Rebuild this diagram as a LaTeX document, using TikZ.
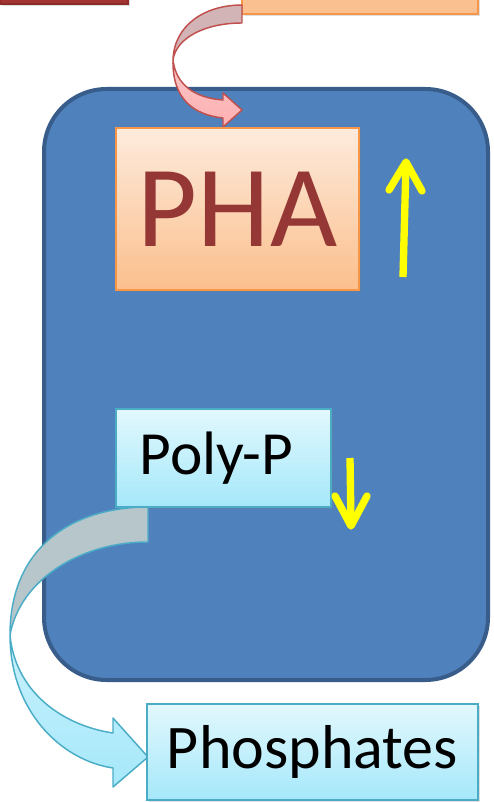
\documentclass[tikz,border=0pt]{standalone}
\usepackage{fontspec}
\setmainfont{Carlito}
\usetikzlibrary{shadows}
\definecolor{cellfill}{HTML}{4F81BD}
\definecolor{celledge}{HTML}{385D8A}
\definecolor{phatop}{HTML}{FDEBDD}
\definecolor{phabot}{HTML}{FBBF8C}
\definecolor{phaedge}{HTML}{F79646}
\definecolor{phatext}{HTML}{953735}
\definecolor{cyantop}{HTML}{E2F8FD}
\definecolor{cyanbot}{HTML}{A5E8FA}
\definecolor{cyanedge}{HTML}{4BACC6}
\definecolor{cyangray}{HTML}{B6C6CB}
\definecolor{redfill}{HTML}{A23431}
\definecolor{rededge}{HTML}{8C2B28}
\definecolor{orangefill}{HTML}{FAC090}
\definecolor{pinkedge}{HTML}{C0504D}
\definecolor{pinkgray}{HTML}{D2B4B6}
\definecolor{pinktop}{HTML}{F9C6C7}
\definecolor{pinkbot}{HTML}{FFB0B2}
\definecolor{arrowyellow}{HTML}{FFFF00}
\tikzset{
  boxshadow/.style={drop shadow={opacity=0.25, shadow xshift=1.5pt, shadow yshift=-1.5pt}},
  phabox/.style={draw=phaedge, line width=1.1pt, top color=phatop, bottom color=phabot, boxshadow, inner sep=0pt},
  cyanbox/.style={draw=cyanedge, line width=1.1pt, top color=cyantop, bottom color=cyanbot, boxshadow, inner sep=0pt},
  yarrow/.style={draw=arrowyellow, line width=5.5pt, line cap=round, line join=round},
  yshaft/.style={draw=arrowyellow, line width=5.5pt, line cap=butt},
}
\begin{document}
\begin{tikzpicture}[x=0.75pt,y=-0.75pt]
\useasboundingbox (0,0) rectangle (493,802);
% top boxes (cut by the frame)
\node[draw=rededge, fill=redfill, line width=1pt, boxshadow, minimum width=96pt, minimum height=18pt, inner sep=0pt] (redbox) at (64,-8) {};
\node[draw=phaedge, fill=orangefill, line width=1.1pt, boxshadow, minimum width=177pt, minimum height=33pt, inner sep=0pt] (orangebox) at (360,-8) {};
% cell
\node[draw=celledge, fill=cellfill, line width=3pt, rounded corners=47pt, minimum width=333pt, minimum height=443.25pt, inner sep=0pt] (cell) at (266,384.5) {};
% pink curved arrow
\coordinate (pa) at (242,5);
\coordinate (pb) at (242,23);
\coordinate (pc) at (173,60);
\draw[draw=pinkedge, line width=1.1pt, fill=pinkgray, line join=round]
  (pa) .. controls (205,5) and (174,25) .. (pc)
  .. controls (176,38) and (205,23) .. (pb) -- cycle;
\draw[draw=pinkedge, line width=1.1pt, top color=pinktop, bottom color=pinkbot, line join=round]
  (pc) .. controls (172,100) and (195,115) .. (223,118)
  -- (223,127) -- (242,110) -- (223,93) -- (223,100)
  .. controls (195,98) and (176,85) .. (pc) -- cycle;
% PHA
\node[phabox, minimum width=182.25pt, minimum height=121.5pt] (pha) at (237.5,209)
  {\fontsize{87}{90}\selectfont\color{phatext}PHA};
% yellow up arrow
\coordinate (ua) at (403,277);
\coordinate (ub) at (406,163);
\draw[yshaft] (ua) -- (ub);
\draw[yarrow] (389,190) -- (406,162) -- (422,191);
% Poly-P
\node[cyanbox, minimum width=161.25pt, minimum height=73.5pt] (polyp) at (223.5,458)
  {\fontsize{46}{48}\selectfont Poly-P\hspace*{10.5pt}};
% yellow down arrow
\coordinate (da) at (350,458);
\coordinate (db) at (351,524);
\draw[yshaft] (da) -- (db);
\draw[yarrow] (335,496) -- (351,526) -- (367,496);
% blue curved arrow
\coordinate (ba) at (148,507);
\coordinate (bb) at (148,542);
\coordinate (bc) at (10,635);
\draw[draw=cyanedge, line width=1.1pt, fill=cyangray, line join=round]
  (ba) .. controls (75,507) and (10,545) .. (bc)
  .. controls (20,580) and (80,542) .. (bb) -- cycle;
\draw[draw=cyanedge, line width=1.1pt, top color=cyantop!60!cyanbot, bottom color=cyanbot, line join=round]
  (bc) .. controls (10,710) and (60,760) .. (113,768)
  -- (113,787) -- (148,757) -- (113,718) -- (113,733)
  .. controls (60,725) and (15,690) .. (bc) -- cycle;
% Phosphates
\node[cyanbox, minimum width=248.25pt, minimum height=72pt] (phos) at (312.5,752)
  {\fontsize{46.5}{50}\selectfont Phosphates};
\end{tikzpicture}
\end{document}
